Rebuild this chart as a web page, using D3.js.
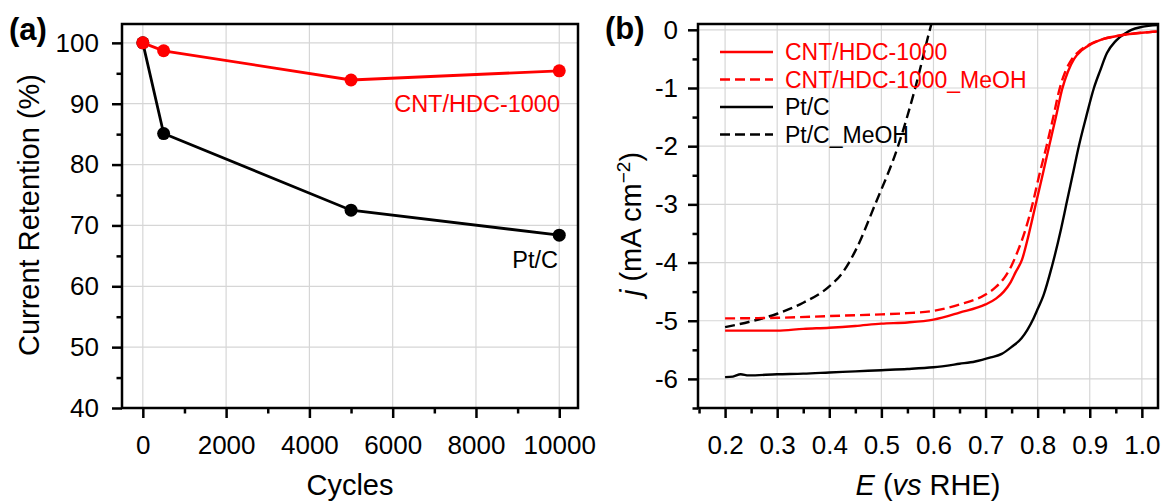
<!DOCTYPE html>
<html>
<head>
<meta charset="utf-8">
<script src="https://cdn.jsdelivr.net/npm/d3@7"></script>
<style>
  body { margin: 0; background: #fff; }
  svg { display: block; font-family: "Liberation Sans", Arial, sans-serif; }
  .grid line { stroke: #d6d6d6; stroke-width: 1.2; }
  .tick line { stroke: #000; stroke-width: 2.5; }
  .tick text { font-size: 26px; fill: #000; }
</style>
</head>
<body>
<svg id="chart" width="1163" height="503"></svg>
<script>
// ---- panel (a): current retention vs cycles
const cycles = [0, 500, 5000, 10000];
const retentionCNT = [100, 98.7, 93.9, 95.4];
const retentionPt = [100, 85.1, 72.5, 68.4];
const cycleTicks = [0, 2000, 4000, 6000, 8000, 10000];
const cycleMinor = [1000, 3000, 5000, 7000, 9000];
const retTicks = [40, 50, 60, 70, 80, 90, 100];
const retMinor = [45, 55, 65, 75, 85, 95];

// ---- panel (b): LSV curves, E (V vs RHE) and j (mA cm-2)
const eCNT = [0.20,0.25,0.30,0.35,0.40,0.45,0.50,0.55,0.60,0.65,0.70,0.72,0.735,0.748,0.758,0.770,0.782,0.795,0.808,0.822,0.835,0.847,0.858,0.870,0.885,0.904,0.925,0.95,0.97,1.00,1.03];
const jCNT = [-5.17,-5.17,-5.17,-5.14,-5.12,-5.09,-5.05,-5.03,-4.98,-4.86,-4.72,-4.62,-4.50,-4.34,-4.16,-3.95,-3.55,-3.05,-2.55,-2.00,-1.50,-1.02,-0.72,-0.50,-0.35,-0.24,-0.16,-0.11,-0.08,-0.05,-0.03];
const eCNTMeOH = [0.20,0.30,0.40,0.50,0.55,0.60,0.65,0.70,0.72,0.737,0.75,0.762,0.776,0.79,0.803,0.817,0.83,0.842,0.853,0.866,0.882,0.902,0.925,0.95,0.97,1.00,1.03];
const jCNTMeOH = [-4.96,-4.95,-4.92,-4.89,-4.87,-4.83,-4.72,-4.55,-4.42,-4.25,-4.05,-3.80,-3.45,-3.00,-2.50,-2.00,-1.50,-1.02,-0.72,-0.50,-0.35,-0.24,-0.16,-0.11,-0.08,-0.05,-0.03];
const ePt = [0.20,0.215,0.23,0.245,0.30,0.35,0.40,0.45,0.50,0.55,0.60,0.65,0.68,0.71,0.731,0.75,0.769,0.78,0.792,0.80,0.811,0.827,0.845,0.855,0.867,0.879,0.893,0.908,0.92,0.933,0.95,0.97,0.98,1.00,1.03];
const jPt = [-5.97,-5.96,-5.92,-5.94,-5.92,-5.91,-5.89,-5.87,-5.85,-5.83,-5.80,-5.74,-5.70,-5.63,-5.57,-5.45,-5.30,-5.16,-4.96,-4.80,-4.57,-4.08,-3.42,-3.00,-2.50,-2.00,-1.50,-1.00,-0.70,-0.40,-0.19,-0.05,0.00,0.05,0.08];
const ePtMeOH = [0.20,0.25,0.30,0.35,0.40,0.425,0.45,0.488,0.532,0.565,0.593,0.596];
const jPtMeOH = [-5.11,-5.01,-4.88,-4.69,-4.41,-4.18,-3.80,-3.00,-2.00,-1.00,0.00,0.10];
const eTicks = [0.2,0.3,0.4,0.5,0.6,0.7,0.8,0.9,1.0];
const eMinor = [0.15,0.25,0.35,0.45,0.55,0.65,0.75,0.85,0.95];
const jTicks = [0,-1,-2,-3,-4,-5,-6];
const jMinor = [-0.5,-1.5,-2.5,-3.5,-4.5,-5.5,-6.5];

const legendLabels = ["CNT/HDC-1000", "CNT/HDC-1000_MeOH", "Pt/C", "Pt/C_MeOH"];
const legendColors = ["#ff0000", "#ff0000", "#000000", "#000000"];
const legendDash = [null, "10,5", null, "10,5"];

const svg = d3.select("#chart");

function frameAxes(x, y, xt, xm, yt, ym, xfmt, yfmt, ypad) {
    const [x0, x1] = x.range(), [y1, y0] = y.range();
    const g = svg.append("g");
    // grid
    const grid = g.append("g").attr("class", "grid");
    grid.selectAll(".gx").data(xt).join("line")
        .attr("x1", d => x(d)).attr("x2", d => x(d)).attr("y1", y0).attr("y2", y1);
    grid.selectAll(".gy").data(yt).join("line")
        .attr("y1", d => y(d)).attr("y2", d => y(d)).attr("x1", x0).attr("x2", x1);
    // axes
    g.append("g").attr("transform", `translate(0,${y1})`)
        .call(d3.axisBottom(x).tickValues(xt).tickSize(10).tickPadding(18).tickFormat(xfmt))
        .call(a => a.select(".domain").remove());
    g.append("g").attr("transform", `translate(0,${y1})`)
        .call(d3.axisBottom(x).tickValues(xm).tickSize(5.5).tickFormat(""))
        .call(a => a.select(".domain").remove());
    g.append("g").attr("transform", `translate(${x0},0)`)
        .call(d3.axisLeft(y).tickValues(yt).tickSize(10).tickPadding(ypad).tickFormat(yfmt))
        .call(a => a.select(".domain").remove());
    g.append("g").attr("transform", `translate(${x0},0)`)
        .call(d3.axisLeft(y).tickValues(ym).tickSize(5.5).tickFormat(""))
        .call(a => a.select(".domain").remove());
    g.selectAll(".tick text").attr("font-family", null).attr("font-size", null);
    return g;
}

function drawFrame(x, y) {
    const [x0, x1] = x.range(), [y1, y0] = y.range();
    svg.append("rect")
        .attr("x", x0).attr("y", y0).attr("width", x1 - x0).attr("height", y1 - y0)
        .attr("fill", "none").attr("stroke", "#000").attr("stroke-width", 2.5);
}

function drawRetention() {
    const x = d3.scaleLinear().domain([-500, 10450]).range([122, 578]);
    const y = d3.scaleLinear().domain([40, 103.1]).range([408, 24]);
    frameAxes(x, y, cycleTicks, cycleMinor, retTicks, retMinor, d3.format("d"), d3.format("d"), 13);

    const line = d3.line().x(d => x(d[0])).y(d => y(d[1]));
    [[retentionPt, "#000"], [retentionCNT, "#ff0000"]].forEach(([vals, col]) => {
        const pts = cycles.map((c, i) => [c, vals[i]]);
        svg.append("path").datum(pts).attr("d", line)
            .attr("fill", "none").attr("stroke", col).attr("stroke-width", 2.8);
        svg.append("g").selectAll("circle").data(pts).join("circle")
            .attr("cx", d => x(d[0])).attr("cy", d => y(d[1])).attr("r", 6.5).attr("fill", col);
    });
    drawFrame(x, y);

    svg.append("text").attr("x", 560).attr("y", 112).attr("text-anchor", "end")
        .attr("font-size", 23.5).attr("fill", "#ff0000").text("CNT/HDC-1000");
    svg.append("text").attr("x", 558).attr("y", 268).attr("text-anchor", "end")
        .attr("font-size", 23.5).attr("fill", "#000").text("Pt/C");

    svg.append("text").attr("transform", "translate(39,215) rotate(-90)")
        .attr("text-anchor", "middle").attr("font-size", 29).text("Current Retention (%)");
    svg.append("text").attr("x", 350).attr("y", 495)
        .attr("text-anchor", "middle").attr("font-size", 29).text("Cycles");
    svg.append("text").attr("x", 9).attr("y", 40)
        .attr("font-size", 31).attr("font-weight", "bold").text("(a)");
}

function drawLSV() {
    const x = d3.scaleLinear().domain([0.148, 1.031]).range([698, 1158]);
    const y = d3.scaleLinear().domain([-6.5, 0.1]).range([408, 24]);
    frameAxes(x, y, eTicks, eMinor, jTicks, jMinor, d3.format(".1f"), d => String(d), 10);

    svg.append("clipPath").attr("id", "clipB").append("rect")
        .attr("x", 698).attr("y", 24).attr("width", 460).attr("height", 384);

    const line = d3.line().x(d => x(d[0])).y(d => y(d[1])).curve(d3.curveMonotoneX);
    const series = [
        [ePtMeOH, jPtMeOH, 3],
        [ePt, jPt, 2],
        [eCNTMeOH, jCNTMeOH, 1],
        [eCNT, jCNT, 0]
    ];
    const lines = svg.append("g").attr("clip-path", "url(#clipB)");
    series.forEach(([es, js, k]) => {
        lines.append("path").datum(es.map((e, i) => [e, js[i]])).attr("d", line)
            .attr("fill", "none").attr("stroke", legendColors[k]).attr("stroke-width", 2.4)
            .attr("stroke-dasharray", legendDash[k]);
    });
    drawFrame(x, y);

    // legend
    const leg = svg.append("g").selectAll("g").data(legendLabels).join("g")
        .attr("transform", (_d, i) => `translate(720,${52 + i * 27.5})`);
    leg.append("line").attr("x1", 0).attr("x2", 53)
        .attr("stroke", (_d, i) => legendColors[i]).attr("stroke-width", 2.4)
        .attr("stroke-dasharray", (_d, i) => legendDash[i]);
    leg.append("text").attr("x", 65).attr("y", 8).attr("font-size", 23)
        .attr("fill", (_d, i) => legendColors[i]).text(d => d);

    const yl = svg.append("text").attr("transform", "translate(641,224) rotate(-90)")
        .attr("text-anchor", "middle").attr("font-size", 29);
    yl.append("tspan").attr("font-style", "italic").text("j");
    yl.append("tspan").text(" (mA cm");
    yl.append("tspan").attr("font-size", 19).attr("dy", -11).text("\u22122");
    yl.append("tspan").attr("dy", 11).text(")");

    const xl = svg.append("text").attr("x", 928).attr("y", 495)
        .attr("text-anchor", "middle").attr("font-size", 29);
    xl.append("tspan").attr("font-style", "italic").text("E");
    xl.append("tspan").text(" (");
    xl.append("tspan").attr("font-style", "italic").text("vs");
    xl.append("tspan").text(" RHE)");

    svg.append("text").attr("x", 605).attr("y", 39)
        .attr("font-size", 31).attr("font-weight", "bold").text("(b)");
}

drawRetention();
drawLSV();
</script>
</body>
</html>
